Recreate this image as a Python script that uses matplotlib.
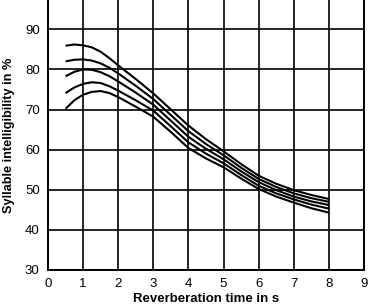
import matplotlib.pyplot as plt

plt.rcParams['font.family'] = ['Liberation Sans', 'DejaVu Sans']

# Reverberation time (s)
t = [0.5, 0.75, 1.0, 1.25, 1.5, 1.75, 2.0, 2.5, 3.0, 3.5, 4.0,
     4.5, 5.0, 5.5, 6.0, 6.5, 7.0, 7.5, 8.0]

# Syllable intelligibility (%) for the five curves, top to bottom
curve_a = [85.9, 86.2, 86.0, 85.5, 84.4, 82.8, 81.0, 77.6, 74.0, 70.0, 66.0,
           62.6, 59.6, 56.4, 53.5, 51.5, 49.9, 48.7, 47.7]
curve_b = [82.0, 82.4, 82.5, 82.2, 81.5, 80.4, 79.0, 75.9, 72.6, 68.6, 64.6,
           61.4, 58.6, 55.5, 52.7, 50.7, 49.1, 47.9, 47.0]
curve_c = [78.3, 79.4, 80.0, 79.9, 79.3, 78.3, 77.0, 74.2, 71.2, 67.2, 63.2,
           60.2, 57.6, 54.6, 51.9, 49.9, 48.3, 47.1, 46.2]
curve_d = [74.1, 75.5, 76.4, 76.8, 76.6, 75.8, 74.7, 72.3, 69.7, 65.8, 61.8,
           59.0, 56.6, 53.7, 51.0, 49.1, 47.6, 46.3, 45.3]
curve_e = [70.2, 72.3, 73.7, 74.4, 74.6, 74.1, 73.1, 70.7, 68.2, 64.4, 60.4,
           57.8, 55.6, 52.8, 50.2, 48.3, 46.8, 45.4, 44.3]

x_ticks = [0, 1, 2, 3, 4, 5, 6, 7, 8, 9]
y_ticks = [30, 40, 50, 60, 70, 80, 90]

fig = plt.figure(figsize=(3.69, 3.07), dpi=100)
ax = fig.add_axes([48 / 369, 37 / 307, 316 / 369, 270 / 307])

for ys in [curve_a, curve_b, curve_c, curve_d, curve_e]:
    ax.plot(t, ys, color='black', lw=1.5, solid_capstyle='butt')

ax.set_xlim(0, 9)
ax.set_ylim(30, 97.3)
ax.set_xticks(x_ticks)
ax.set_yticks(y_ticks)
ax.grid(True, color='black', lw=1.2)
ax.set_axisbelow(True)

ax.spines['top'].set_visible(False)
for s in ['left', 'bottom', 'right']:
    ax.spines[s].set_linewidth(1.4)

ax.tick_params(length=0, labelsize=9.5, pad=6)
ax.set_xlabel('Reverberation time in s', fontsize=9.5, fontweight='bold', labelpad=2)
ax.set_ylabel('Syllable intelligibility in %', fontsize=9.2, fontweight='bold', labelpad=7)

fig.savefig('out.png', dpi=100)
